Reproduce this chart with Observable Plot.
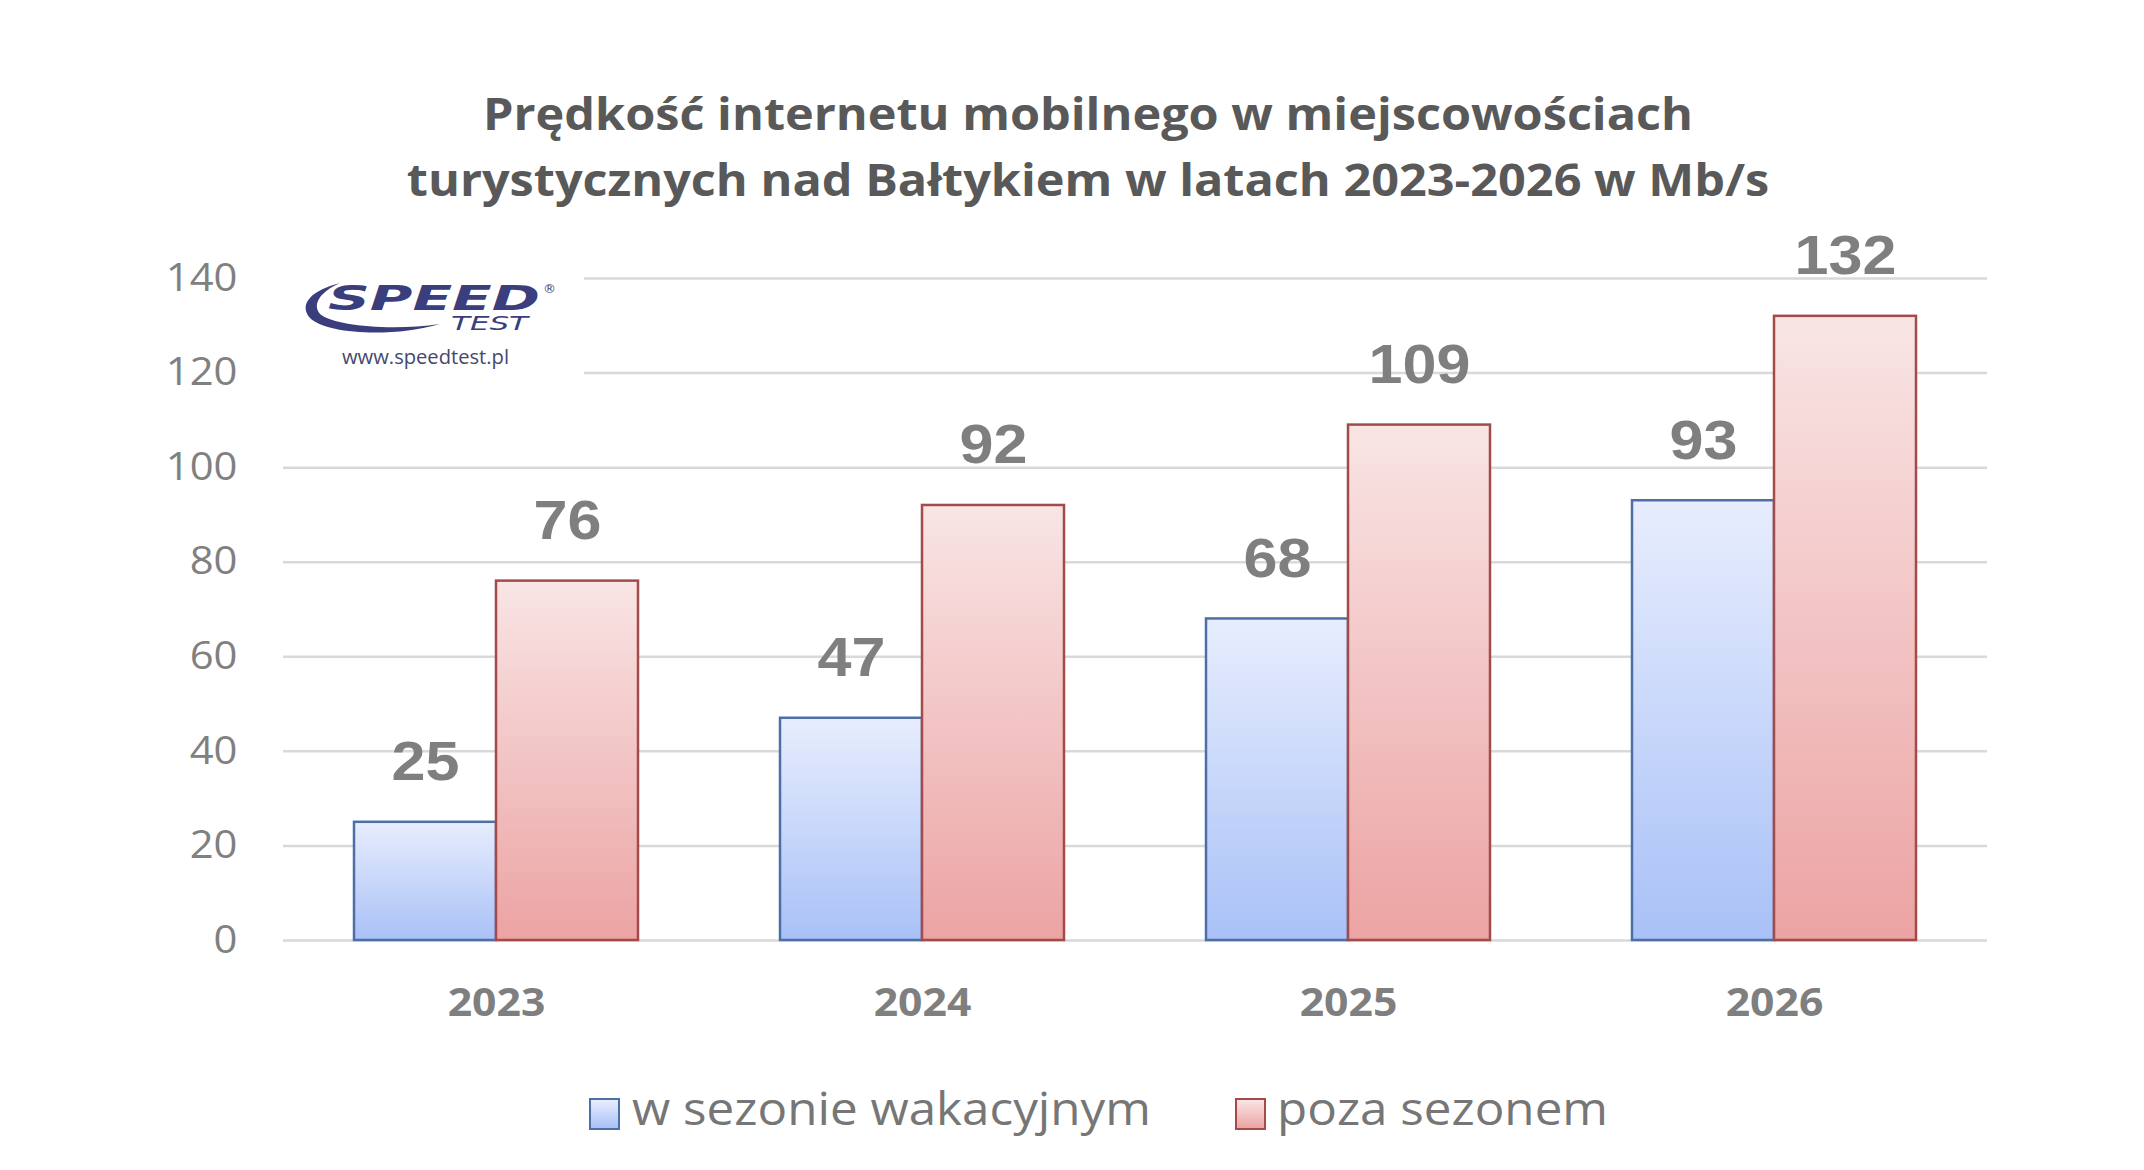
<!DOCTYPE html>
<html>
<head>
<meta charset="utf-8">
<script src="https://cdn.jsdelivr.net/npm/d3@7"></script>
<script src="https://cdn.jsdelivr.net/npm/@observablehq/plot@0.6"></script>
<style>
  html, body { margin: 0; padding: 0; background: #fff; }
  #page { position: relative; width: 2144px; height: 1170px; overflow: hidden; background: #fff; }
  #title { position: absolute; left: 1088px; top: 80px; transform: translateX(-50%) scaleX(1.105); transform-origin: center; white-space: nowrap;
    text-align: center; font-family: "Open Sans", sans-serif; font-weight: 700; font-size: 44px; line-height: 66px; color: #595959; }
  #chart { position: absolute; left: 0; top: 220px; }
  #chart svg g[aria-label^="y-axis"] text { font-family: "Open Sans", sans-serif; font-size: 38px; fill: #808080; }
  #chart svg g[aria-label^="fx-axis"] text { font-family: "Open Sans", sans-serif; font-weight: 700; font-size: 39px; fill: #7f7f7f; }
  .lg { position: absolute; font-family: "Open Sans", sans-serif; font-size: 45px; line-height: 60px; color: #767676; white-space: nowrap;
    top: 1078px; transform: scaleX(1.097); transform-origin: left; }
  .sw { position: absolute; top: 1098px; width: 27px; height: 28px; border: 2px solid; }
  .sw.blue { border-color: #4e6fa6; background: linear-gradient(#e7edfd, #a9c1f7); }
  .sw.red { border-color: #a34a4a; background: linear-gradient(#f9e5e5, #eca3a3); }
  #logo { position: absolute; left: 282px; top: 262px; width: 302px; height: 116px; background: #fff; }
</style>
</head>
<body>
<div id="page">
  <svg width="0" height="0" style="position:absolute">
    <defs>
      <linearGradient id="gradBlue" x1="0" y1="0" x2="0" y2="1">
        <stop offset="0" stop-color="#e7edfd"/>
        <stop offset="1" stop-color="#a9c1f7"/>
      </linearGradient>
      <linearGradient id="gradRed" x1="0" y1="0" x2="0" y2="1">
        <stop offset="0" stop-color="#f9e5e5"/>
        <stop offset="1" stop-color="#eca3a3"/>
      </linearGradient>
    </defs>
  </svg>
  <div id="title">Prędkość internetu mobilnego w miejscowościach<br>turystycznych nad Bałtykiem w latach 2023-2026 w Mb/s</div>
  <div id="chart"></div>
  <div id="logo">
    <svg width="302" height="116" viewBox="0 0 302 116">
      <path d="M58,21 C30,28 16,42 28,56 C44,72 110,76 158,62 C110,69 52,64 38,52 C30,42 38,30 58,21 Z" fill="#3b3e7d"/>
      <text x="46" y="48" font-family="DejaVu Sans" font-weight="bold" font-style="italic" font-size="34" fill="#3b3e7d" textLength="212" lengthAdjust="spacingAndGlyphs">SPEED</text>
      <text x="261" y="31" font-family="DejaVu Sans" font-size="13" fill="#3b3e7d">®</text>
      <text x="169" y="68" font-family="DejaVu Sans" font-style="italic" font-size="20" fill="#3b3e7d" textLength="77" lengthAdjust="spacingAndGlyphs">TEST</text>
      <text x="60" y="102" font-family="Open Sans" font-size="20" fill="#45476e" textLength="167" lengthAdjust="spacingAndGlyphs">www.speedtest.pl</text>
    </svg>
  </div>
  <div class="sw blue" style="left:589px"></div>
  <div class="lg" style="left:632px">w sezonie wakacyjnym</div>
  <div class="sw red" style="left:1235px"></div>
  <div class="lg" style="left:1277px">poza sezonem</div>
</div>
<script>
const years = ["2023", "2024", "2025", "2026"];
const seriesNames = ["w sezonie wakacyjnym", "poza sezonem"];
const inSeason = [25, 47, 68, 93];
const offSeason = [76, 92, 109, 132];
const yTicks = [0, 20, 40, 60, 80, 100, 120, 140];

const blueData = years.map((year, i) => ({year, series: seriesNames[0], value: inSeason[i]}));
const redData = years.map((year, i) => ({year, series: seriesNames[1], value: offSeason[i]}));
const allData = blueData.concat(redData);

const chart = Plot.plot({
  width: 2144,
  height: 840,
  marginLeft: 282,
  marginRight: 156,
  marginTop: 58,
  marginBottom: 120,
  style: {background: "transparent", overflow: "visible"},
  fx: {domain: years, padding: 0, label: null, tickSize: 0, tickPadding: 48},
  x: {domain: seriesNames, paddingInner: 0, paddingOuter: 0.491, axis: null},
  y: {domain: [0, 140], ticks: yTicks, tickSize: 0, tickPadding: 46, label: null},
  marks: [
    Plot.ruleY(yTicks, {stroke: "#d9d9d9", strokeWidth: 2.5}),
    Plot.barY(blueData, {fx: "year", x: "series", y: "value", fill: "url(#gradBlue)", stroke: "#4e6fa6", strokeWidth: 2.5}),
    Plot.barY(redData, {fx: "year", x: "series", y: "value", fill: "url(#gradRed)", stroke: "#a34a4a", strokeWidth: 2.5}),
    Plot.text(allData, {fx: "year", x: "series", y: "value", text: d => String(d.value), dy: -42, lineAnchor: "bottom",
      fontSize: 56, fontWeight: "bold", fontFamily: "Liberation Sans, Arial, sans-serif", fill: "#7f7f7f"})
  ]
});
document.getElementById("chart").appendChild(chart);

function stretch(selector, k) {
  chart.querySelectorAll(selector).forEach(t => {
    const w = t.getComputedTextLength();
    if (w > 0) {
      t.setAttribute("textLength", w * k);
      t.setAttribute("lengthAdjust", "spacingAndGlyphs");
    }
  });
}
stretch('g[aria-label^="y-axis"] text', 1.1);
stretch('g[aria-label^="fx-axis"] text', 1.095);
stretch('g[aria-label="text"] text', 1.09);
</script>
</body>
</html>
